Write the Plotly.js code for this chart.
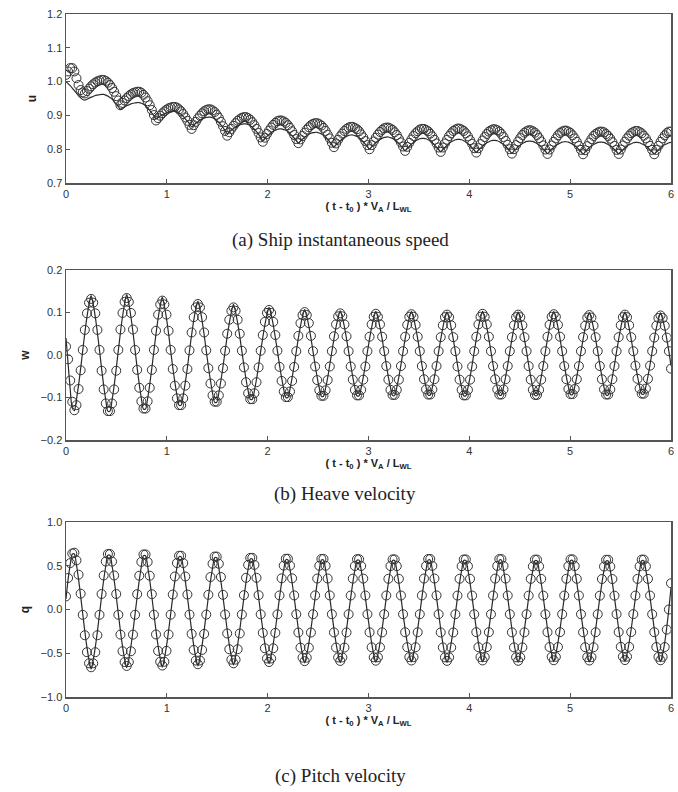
<!DOCTYPE html>
<html>
<head>
<meta charset="utf-8">
<script src="https://cdn.plot.ly/plotly-3.0.1.min.js"></script>
<style>html,body{margin:0;padding:0;background:#fff}#chart{width:678px;height:792px}</style>
</head>
<body>
<div id="chart"></div>
<script>
// sample spacing of the time axis (t - t0) * VA / LWL, from 0 to 6
const T_START = 0;
const T_STEP = 6 / 289;

const xTickVals = [0, 1, 2, 3, 4, 5, 6];

// (a) Ship instantaneous speed u — circles
const uCirc = [
1.020,1.030,1.040,1.040,1.030,1.010,0.990,0.975,0.968,0.965,0.972,0.979,0.986,0.992,0.997,1.001,1.003,
1.005,1.005,1.002,0.997,0.990,0.981,0.970,0.957,0.944,0.930,0.937,0.944,0.951,0.957,0.962,0.966,0.968,
0.970,0.970,0.967,0.961,0.953,0.942,0.930,0.916,0.901,0.885,0.892,0.899,0.906,0.912,0.917,0.921,0.923,
0.925,0.925,0.923,0.918,0.912,0.904,0.894,0.884,0.872,0.860,0.871,0.881,0.891,0.899,0.906,0.912,0.916,
0.918,0.918,0.915,0.910,0.902,0.893,0.881,0.868,0.854,0.840,0.850,0.860,0.869,0.877,0.884,0.889,0.893,
0.895,0.895,0.892,0.887,0.880,0.871,0.860,0.848,0.835,0.822,0.834,0.845,0.855,0.864,0.872,0.878,0.883,
0.885,0.885,0.882,0.878,0.871,0.863,0.853,0.842,0.830,0.818,0.829,0.839,0.849,0.858,0.865,0.871,0.875,
0.877,0.877,0.874,0.870,0.863,0.854,0.843,0.832,0.819,0.806,0.817,0.828,0.838,0.846,0.854,0.860,0.864,
0.866,0.866,0.863,0.859,0.853,0.844,0.835,0.824,0.812,0.800,0.812,0.823,0.834,0.843,0.851,0.857,0.862,
0.864,0.864,0.861,0.857,0.850,0.842,0.831,0.820,0.808,0.795,0.807,0.819,0.829,0.839,0.847,0.853,0.858,
0.860,0.860,0.857,0.853,0.846,0.838,0.828,0.817,0.805,0.792,0.805,0.817,0.828,0.839,0.847,0.854,0.858,
0.861,0.861,0.858,0.854,0.847,0.838,0.827,0.816,0.803,0.790,0.803,0.815,0.826,0.836,0.845,0.852,0.856,
0.859,0.859,0.856,0.852,0.845,0.836,0.825,0.813,0.800,0.787,0.800,0.812,0.823,0.833,0.842,0.849,0.853,
0.856,0.856,0.853,0.849,0.842,0.833,0.823,0.811,0.799,0.786,0.799,0.811,0.822,0.832,0.841,0.848,0.852,
0.855,0.855,0.852,0.848,0.841,0.832,0.822,0.810,0.798,0.785,0.797,0.809,0.820,0.830,0.839,0.845,0.849,
0.852,0.852,0.850,0.845,0.839,0.831,0.821,0.810,0.798,0.786,0.799,0.811,0.822,0.832,0.840,0.847,0.851,
0.854,0.854,0.851,0.847,0.840,0.832,0.821,0.810,0.798,0.785,0.798,0.810,0.822,0.832,0.841,0.848,0.852,
0.852];

// (a) u — solid line
const uLine = [
1.000,0.994,0.988,0.981,0.973,0.966,0.958,0.952,0.947,0.945,0.948,0.951,0.954,0.956,0.959,0.960,0.961,
0.962,0.962,0.960,0.957,0.953,0.948,0.941,0.934,0.926,0.918,0.922,0.925,0.929,0.931,0.934,0.936,0.937,
0.938,0.938,0.936,0.933,0.928,0.922,0.915,0.907,0.899,0.890,0.894,0.898,0.902,0.905,0.908,0.910,0.911,
0.912,0.912,0.910,0.907,0.903,0.897,0.890,0.883,0.875,0.866,0.871,0.877,0.881,0.886,0.889,0.892,0.894,
0.895,0.895,0.893,0.890,0.885,0.879,0.872,0.864,0.855,0.846,0.851,0.856,0.861,0.866,0.869,0.872,0.874,
0.875,0.875,0.873,0.870,0.865,0.859,0.852,0.844,0.835,0.826,0.832,0.838,0.844,0.849,0.853,0.856,0.859,
0.860,0.860,0.858,0.856,0.852,0.846,0.840,0.833,0.826,0.818,0.824,0.830,0.835,0.840,0.844,0.847,0.849,
0.850,0.850,0.848,0.845,0.841,0.836,0.829,0.822,0.814,0.806,0.813,0.819,0.825,0.830,0.835,0.838,0.841,
0.842,0.842,0.840,0.838,0.834,0.828,0.822,0.815,0.808,0.800,0.807,0.813,0.819,0.824,0.829,0.832,0.835,
0.836,0.836,0.834,0.832,0.828,0.823,0.817,0.810,0.803,0.795,0.802,0.808,0.815,0.820,0.825,0.828,0.831,
0.832,0.832,0.831,0.828,0.824,0.819,0.813,0.806,0.799,0.792,0.799,0.805,0.811,0.817,0.822,0.825,0.828,
0.829,0.829,0.828,0.825,0.821,0.816,0.811,0.804,0.797,0.790,0.797,0.803,0.809,0.814,0.819,0.822,0.825,
0.826,0.826,0.825,0.822,0.818,0.814,0.808,0.802,0.795,0.788,0.795,0.801,0.807,0.812,0.817,0.820,0.823,
0.824,0.824,0.823,0.820,0.817,0.812,0.807,0.800,0.794,0.787,0.793,0.800,0.805,0.811,0.815,0.818,0.821,
0.822,0.822,0.821,0.818,0.815,0.810,0.805,0.799,0.793,0.786,0.792,0.799,0.804,0.810,0.814,0.817,0.820,
0.821,0.821,0.820,0.817,0.814,0.810,0.804,0.799,0.792,0.786,0.792,0.798,0.804,0.809,0.813,0.816,0.819,
0.820,0.820,0.819,0.816,0.813,0.809,0.804,0.798,0.792,0.786,0.792,0.798,0.804,0.809,0.813,0.816,0.819,
0.820];

// (b) Heave velocity w — circles
const wCirc = [
0.020,-0.010,-0.060,-0.110,-0.130,-0.118,-0.080,-0.036,0.012,0.059,0.098,0.123,0.132,0.123,0.098,0.059,0.012,
-0.037,-0.081,-0.114,-0.132,-0.132,-0.114,-0.081,-0.037,0.012,0.060,0.099,0.125,0.134,0.125,0.099,0.060,0.012,
-0.035,-0.077,-0.109,-0.126,-0.126,-0.109,-0.077,-0.035,0.012,0.057,0.095,0.119,0.128,0.119,0.095,0.057,0.012,
-0.033,-0.072,-0.102,-0.118,-0.118,-0.102,-0.072,-0.033,0.011,0.053,0.089,0.112,0.120,0.112,0.089,0.053,0.011,
-0.031,-0.067,-0.095,-0.110,-0.110,-0.095,-0.067,-0.031,0.010,0.050,0.083,0.104,0.112,0.104,0.083,0.050,0.010,
-0.029,-0.064,-0.090,-0.104,-0.104,-0.090,-0.064,-0.029,0.010,0.047,0.078,0.099,0.106,0.099,0.078,0.047,0.010,
-0.028,-0.061,-0.086,-0.099,-0.099,-0.086,-0.061,-0.028,0.009,0.045,0.075,0.094,0.101,0.094,0.075,0.045,0.009,
-0.027,-0.059,-0.083,-0.096,-0.096,-0.083,-0.059,-0.027,0.009,0.044,0.072,0.091,0.098,0.091,0.072,0.044,0.009,
-0.027,-0.058,-0.082,-0.095,-0.095,-0.082,-0.058,-0.027,0.009,0.043,0.072,0.090,0.097,0.090,0.072,0.043,0.009,
-0.026,-0.058,-0.082,-0.094,-0.094,-0.082,-0.058,-0.026,0.009,0.043,0.071,0.090,0.096,0.090,0.071,0.043,0.009,
-0.026,-0.057,-0.081,-0.093,-0.093,-0.081,-0.057,-0.026,0.009,0.042,0.070,0.089,0.095,0.089,0.070,0.042,0.009,
-0.027,-0.058,-0.082,-0.095,-0.095,-0.082,-0.058,-0.027,0.009,0.043,0.072,0.090,0.097,0.090,0.072,0.043,0.009,
-0.026,-0.057,-0.081,-0.093,-0.093,-0.081,-0.057,-0.026,0.009,0.042,0.070,0.089,0.095,0.089,0.070,0.042,0.009,
-0.026,-0.058,-0.082,-0.094,-0.094,-0.082,-0.058,-0.026,0.009,0.043,0.071,0.090,0.096,0.090,0.071,0.043,0.009,
-0.026,-0.057,-0.080,-0.092,-0.092,-0.080,-0.057,-0.026,0.009,0.042,0.069,0.088,0.094,0.088,0.069,0.042,0.009,
-0.026,-0.057,-0.081,-0.093,-0.093,-0.081,-0.057,-0.026,0.009,0.042,0.070,0.089,0.095,0.089,0.070,0.042,0.009,
-0.025,-0.056,-0.079,-0.091,-0.091,-0.079,-0.056,-0.025,0.009,0.041,0.069,0.087,0.093,0.087,0.069,0.041,0.009,
-0.032];

// (b) w — solid line
const wLine = [
0.040,-0.020,-0.080,-0.125,-0.131,-0.105,-0.071,-0.032,0.011,0.052,0.089,0.119,0.140,0.119,0.089,0.052,0.011,
-0.032,-0.072,-0.106,-0.132,-0.132,-0.106,-0.072,-0.032,0.011,0.053,0.090,0.121,0.142,0.121,0.090,0.053,0.011,
-0.031,-0.069,-0.102,-0.127,-0.127,-0.102,-0.069,-0.031,0.010,0.050,0.086,0.115,0.136,0.115,0.086,0.050,0.010,
-0.029,-0.064,-0.095,-0.118,-0.118,-0.095,-0.064,-0.029,0.010,0.047,0.081,0.108,0.127,0.108,0.081,0.047,0.010,
-0.027,-0.060,-0.089,-0.111,-0.111,-0.089,-0.060,-0.027,0.009,0.044,0.075,0.101,0.119,0.101,0.075,0.044,0.009,
-0.025,-0.057,-0.084,-0.104,-0.104,-0.084,-0.057,-0.025,0.009,0.041,0.071,0.095,0.112,0.095,0.071,0.041,0.009,
-0.024,-0.054,-0.080,-0.100,-0.100,-0.080,-0.054,-0.024,0.008,0.040,0.068,0.091,0.107,0.091,0.068,0.040,0.008,
-0.023,-0.053,-0.078,-0.097,-0.097,-0.078,-0.053,-0.023,0.008,0.038,0.066,0.088,0.104,0.088,0.066,0.038,0.008,
-0.023,-0.052,-0.077,-0.096,-0.096,-0.077,-0.052,-0.023,0.008,0.038,0.065,0.087,0.103,0.087,0.065,0.038,0.008,
-0.023,-0.052,-0.076,-0.095,-0.095,-0.076,-0.052,-0.023,0.008,0.038,0.065,0.087,0.102,0.087,0.065,0.038,0.008,
-0.023,-0.051,-0.076,-0.094,-0.094,-0.076,-0.051,-0.023,0.008,0.037,0.064,0.086,0.101,0.086,0.064,0.037,0.008,
-0.023,-0.052,-0.077,-0.096,-0.096,-0.077,-0.052,-0.023,0.008,0.038,0.065,0.087,0.103,0.087,0.065,0.038,0.008,
-0.023,-0.051,-0.076,-0.094,-0.094,-0.076,-0.051,-0.023,0.008,0.037,0.064,0.086,0.101,0.086,0.064,0.037,0.008,
-0.023,-0.052,-0.076,-0.095,-0.095,-0.076,-0.052,-0.023,0.008,0.038,0.065,0.087,0.102,0.087,0.065,0.038,0.008,
-0.022,-0.051,-0.075,-0.093,-0.093,-0.075,-0.051,-0.022,0.008,0.037,0.063,0.085,0.100,0.085,0.063,0.037,0.008,
-0.023,-0.051,-0.076,-0.094,-0.094,-0.076,-0.051,-0.023,0.008,0.037,0.064,0.086,0.101,0.086,0.064,0.037,0.008,
-0.022,-0.050,-0.074,-0.092,-0.092,-0.074,-0.050,-0.022,0.008,0.037,0.063,0.084,0.099,0.084,0.063,0.037,0.008,
-0.025];

// (c) Pitch velocity q — circles
const qCirc = [
0.150,0.360,0.530,0.640,0.649,0.561,0.398,0.181,-0.061,-0.294,-0.488,-0.615,-0.660,-0.615,-0.488,-0.294,-0.061,
0.177,0.389,0.548,0.634,0.634,0.548,0.389,0.177,-0.060,-0.287,-0.477,-0.601,-0.645,-0.601,-0.477,-0.287,-0.060,
0.175,0.386,0.544,0.629,0.629,0.544,0.386,0.175,-0.059,-0.285,-0.473,-0.597,-0.640,-0.597,-0.473,-0.285,-0.059,
0.171,0.377,0.531,0.614,0.614,0.531,0.377,0.171,-0.058,-0.279,-0.462,-0.583,-0.625,-0.583,-0.462,-0.279,-0.058,
0.168,0.371,0.523,0.605,0.605,0.523,0.371,0.168,-0.057,-0.274,-0.454,-0.573,-0.615,-0.573,-0.454,-0.274,-0.057,
0.164,0.362,0.510,0.590,0.590,0.510,0.362,0.164,-0.055,-0.267,-0.443,-0.560,-0.600,-0.560,-0.443,-0.267,-0.055,
0.161,0.356,0.502,0.580,0.580,0.502,0.356,0.161,-0.054,-0.263,-0.436,-0.550,-0.590,-0.550,-0.436,-0.263,-0.054,
0.161,0.354,0.500,0.578,0.578,0.500,0.354,0.161,-0.054,-0.262,-0.435,-0.548,-0.588,-0.548,-0.435,-0.262,-0.054,
0.160,0.353,0.497,0.575,0.575,0.497,0.353,0.160,-0.054,-0.261,-0.432,-0.546,-0.585,-0.546,-0.432,-0.261,-0.054,
0.160,0.351,0.496,0.573,0.573,0.496,0.351,0.160,-0.054,-0.260,-0.431,-0.544,-0.583,-0.544,-0.431,-0.260,-0.054,
0.161,0.354,0.499,0.577,0.577,0.499,0.354,0.161,-0.054,-0.262,-0.434,-0.547,-0.587,-0.547,-0.434,-0.262,-0.054,
0.159,0.351,0.495,0.572,0.572,0.495,0.351,0.159,-0.054,-0.259,-0.430,-0.543,-0.582,-0.543,-0.430,-0.259,-0.054,
0.160,0.353,0.498,0.576,0.576,0.498,0.353,0.160,-0.054,-0.261,-0.433,-0.546,-0.586,-0.546,-0.433,-0.261,-0.054,
0.159,0.350,0.493,0.570,0.570,0.493,0.350,0.159,-0.054,-0.259,-0.429,-0.541,-0.580,-0.541,-0.429,-0.259,-0.054,
0.160,0.351,0.496,0.573,0.573,0.496,0.351,0.160,-0.054,-0.260,-0.431,-0.544,-0.583,-0.544,-0.431,-0.260,-0.054,
0.158,0.348,0.491,0.568,0.568,0.491,0.348,0.158,-0.053,-0.258,-0.427,-0.539,-0.578,-0.539,-0.427,-0.258,-0.053,
0.159,0.350,0.493,0.570,0.570,0.493,0.350,0.159,-0.054,-0.259,-0.429,-0.541,-0.580,-0.541,-0.429,-0.230,0.000,
0.300];

// (c) q — solid line
const qLine = [
0.120,0.345,0.509,0.634,0.634,0.509,0.345,0.153,-0.052,-0.252,-0.431,-0.577,-0.680,-0.577,-0.431,-0.252,-0.052,
0.149,0.337,0.497,0.620,0.620,0.497,0.337,0.149,-0.050,-0.246,-0.421,-0.564,-0.664,-0.564,-0.421,-0.246,-0.050,
0.148,0.334,0.494,0.615,0.615,0.494,0.334,0.148,-0.050,-0.244,-0.418,-0.559,-0.659,-0.559,-0.418,-0.244,-0.050,
0.145,0.327,0.482,0.601,0.601,0.482,0.327,0.145,-0.049,-0.238,-0.408,-0.547,-0.644,-0.547,-0.408,-0.238,-0.049,
0.142,0.321,0.474,0.591,0.591,0.474,0.321,0.142,-0.048,-0.234,-0.401,-0.537,-0.633,-0.537,-0.401,-0.234,-0.048,
0.139,0.313,0.463,0.577,0.577,0.463,0.313,0.139,-0.047,-0.229,-0.392,-0.525,-0.618,-0.525,-0.392,-0.229,-0.047,
0.137,0.308,0.455,0.567,0.567,0.455,0.308,0.137,-0.046,-0.225,-0.385,-0.516,-0.608,-0.516,-0.385,-0.225,-0.046,
0.136,0.307,0.454,0.565,0.565,0.454,0.307,0.136,-0.046,-0.224,-0.384,-0.514,-0.606,-0.514,-0.384,-0.224,-0.046,
0.136,0.306,0.452,0.563,0.563,0.452,0.306,0.136,-0.046,-0.223,-0.382,-0.512,-0.603,-0.512,-0.382,-0.223,-0.046,
0.135,0.304,0.449,0.560,0.560,0.449,0.304,0.135,-0.046,-0.222,-0.380,-0.509,-0.600,-0.509,-0.380,-0.222,-0.046,
0.136,0.307,0.453,0.564,0.564,0.453,0.307,0.136,-0.046,-0.224,-0.384,-0.514,-0.605,-0.514,-0.384,-0.224,-0.046,
0.135,0.304,0.449,0.559,0.559,0.449,0.304,0.135,-0.046,-0.222,-0.380,-0.509,-0.599,-0.509,-0.380,-0.222,-0.046,
0.136,0.306,0.452,0.564,0.564,0.452,0.306,0.136,-0.046,-0.223,-0.383,-0.513,-0.604,-0.513,-0.383,-0.223,-0.046,
0.134,0.303,0.447,0.557,0.557,0.447,0.303,0.134,-0.045,-0.221,-0.378,-0.507,-0.597,-0.507,-0.378,-0.221,-0.045,
0.135,0.304,0.449,0.560,0.560,0.449,0.304,0.135,-0.046,-0.222,-0.380,-0.509,-0.600,-0.509,-0.380,-0.222,-0.046,
0.134,0.302,0.446,0.555,0.555,0.446,0.302,0.134,-0.045,-0.220,-0.377,-0.505,-0.595,-0.505,-0.377,-0.220,-0.045,
0.134,0.303,0.447,0.557,0.557,0.447,0.303,0.134,-0.045,-0.221,-0.378,-0.507,-0.597,-0.507,-0.378,-0.200,0.010,
0.250];

const yTitles = ['u', 'w', 'q'];
const captions = ['(a) Ship instantaneous speed', '(b) Heave velocity', '(c) Pitch velocity'];
const yRanges = [[0.7, 1.2], [-0.2, 0.2], [-1.0, 1.0]];
const yDticks = [0.1, 0.1, 0.5];
const xTitle = '<b>( t - t<sub>0</sub> ) * V<sub>A</sub> / L<sub>WL</sub></b>';

const INK = '#2a2a2a';
function lineTrace(y, ax) {
  return {type: 'scatter', mode: 'lines', x0: T_START, dx: T_STEP, y: y,
    xaxis: 'x' + ax, yaxis: 'y' + ax, showlegend: false, hoverinfo: 'skip',
    line: {color: INK, width: 1.2, shape: 'spline', smoothing: 0.8}};
}
function circTrace(y, ax) {
  return {type: 'scatter', mode: 'markers', x0: T_START, dx: T_STEP, y: y,
    xaxis: 'x' + ax, yaxis: 'y' + ax, showlegend: false, hoverinfo: 'skip',
    marker: {symbol: 'circle-open', size: 9, color: '#333', line: {width: 1, color: '#333'}}};
}

const data = [
  lineTrace(uLine, ''), circTrace(uCirc, ''),
  lineTrace(wLine, '2'), circTrace(wCirc, '2'),
  lineTrace(qLine, '3'), circTrace(qCirc, '3')
];

const W = 678, H = 792;
const xDom = [66 / W, 671 / W];
const yDoms = [[1 - 183 / H, 1 - 14 / H], [1 - 440 / H, 1 - 270 / H], [1 - 697 / H, 1 - 522 / H]];
const tickFont = {family: 'Liberation Sans, Arial, sans-serif', size: 11, color: '#333'};

const layout = {
  width: W, height: H, margin: {l: 0, r: 0, t: 0, b: 0},
  paper_bgcolor: '#fff', plot_bgcolor: '#fff', showlegend: false,
  annotations: []
};
const capY = [1 - 240 / H, 1 - 494 / H, 1 - 776 / H];
const capX = [340 / W, 345 / W, 340 / W];
for (let k = 0; k < 3; k++) {
  const s = k === 0 ? '' : String(k + 1);
  layout['xaxis' + s] = {
    domain: xDom, range: [0, 6], anchor: 'y' + s,
    tickvals: xTickVals, ticks: 'inside', ticklen: 4, tickcolor: '#555',
    showline: true, mirror: true, linecolor: '#555', linewidth: 1.5,
    showgrid: false, zeroline: false, tickfont: tickFont, automargin: false,
    title: {text: xTitle, font: {family: 'Liberation Sans, Arial, sans-serif', size: 11, color: '#222'}, standoff: 1}
  };
  layout['yaxis' + s] = {
    domain: yDoms[k], range: yRanges[k], anchor: 'x' + s,
    dtick: yDticks[k], tick0: 0, tickformat: '.1f', ticks: 'inside', ticklen: 4, tickcolor: '#555',
    showline: true, mirror: true, linecolor: '#555', linewidth: 1.5,
    showgrid: false, zeroline: false, tickfont: tickFont, automargin: false,
    title: {text: '<b>' + yTitles[k] + '</b>', font: {family: 'Liberation Sans, Arial, sans-serif', size: 12, color: '#222'}, standoff: 8}
  };
  layout.annotations.push({
    text: captions[k], xref: 'paper', yref: 'paper', x: capX[k], y: capY[k],
    xanchor: 'center', yanchor: 'middle', showarrow: false,
    font: {family: 'Liberation Serif, Times New Roman, serif', size: 19, color: '#222'}
  });
}

Plotly.newPlot('chart', data, layout, {staticPlot: true, displayModeBar: false});
</script>
</body>
</html>
